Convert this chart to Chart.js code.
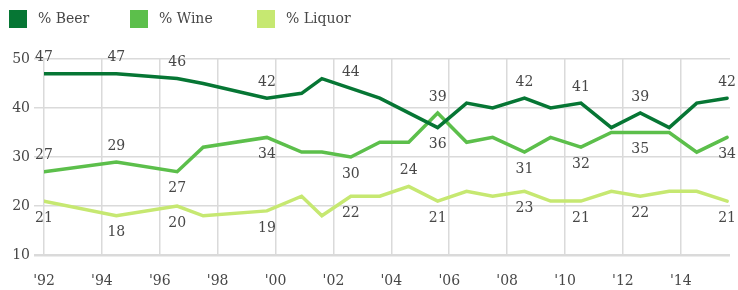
<!DOCTYPE html>
<html>
<head>
<meta charset="utf-8">
<script src="https://cdn.jsdelivr.net/npm/chart.js@4/dist/chart.umd.min.js"></script>
<style>
  body { margin: 0; background: #fff; }
  #wrap { width: 738px; height: 290px; }
</style>
</head>
<body>
<div id="wrap"><canvas id="drinkChart" width="738" height="290"></canvas></div>
<script>
// Survey points (position along the year axis) and shares
const years = [1992.0, 1994.5, 1996.6, 1997.5, 1999.7, 2000.9, 2001.6, 2002.6, 2003.6, 2004.6,
               2005.6, 2006.6, 2007.5, 2008.6, 2009.5, 2010.55, 2011.6, 2012.6, 2013.6, 2014.55, 2015.6];
const beer   = [47, 47, 46, 45, 42, 43, 46, 44, 42, 39, 36, 41, 40, 42, 40, 41, 36, 39, 36, 41, 42];
const wine   = [27, 29, 27, 32, 34, 31, 31, 30, 33, 33, 39, 33, 34, 31, 34, 32, 35, 35, 35, 31, 34];
const liquor = [21, 18, 20, 18, 19, 22, 18, 22, 22, 24, 21, 23, 22, 23, 21, 21, 23, 22, 23, 23, 21];

// which points carry a value label, above or below the line
const beerAbove = [0, 1, 2, 4, 7, 13, 15, 17, 20];
const beerBelow = [10];
const wineAbove = [0, 1, 10];
const wineBelow = [2, 4, 7, 13, 15, 17, 20];
const liquorAbove = [9];
const liquorBelow = [0, 1, 2, 4, 7, 10, 13, 15, 17, 20];

const xTicks = [1992, 1994, 1996, 1998, 2000, 2002, 2004, 2006, 2008, 2010, 2012, 2014];
const yTicks = [10, 20, 30, 40, 50];

const FONT = "'DejaVu Serif', serif";
const GRID = '#dadada';

function toPoints(vals) {
    return years.map((x, i) => ({ x: x, y: vals[i] }));
}

// value labels next to the line points
const valueLabels = {
    id: 'valueLabels',
    afterDatasetsDraw(chart) {
        const ctx = chart.ctx;
        ctx.save();
        ctx.font = '14px ' + FONT;
        ctx.fillStyle = '#474747';
        ctx.textAlign = 'center';
        ctx.textBaseline = 'middle';
        chart.data.datasets.forEach((ds, i) => {
            const meta = chart.getDatasetMeta(i);
            ds.above.forEach(idx => {
                const p = meta.data[idx];
                ctx.fillText(String(ds.data[idx].y), p.x, p.y - 16);
            });
            ds.below.forEach(idx => {
                const p = meta.data[idx];
                ctx.fillText(String(ds.data[idx].y), p.x, p.y + 17);
            });
        });
        ctx.restore();
    }
};

// simple square legend across the top
const squareLegend = {
    id: 'squareLegend',
    afterDraw(chart) {
        const ctx = chart.ctx;
        const starts = [9, 130, 257];
        ctx.save();
        ctx.font = '14px ' + FONT;
        ctx.textBaseline = 'middle';
        chart.data.datasets.forEach((ds, i) => {
            const x = starts[i];
            ctx.fillStyle = ds.borderColor;
            ctx.fillRect(x, 10, 18, 18);
            ctx.fillStyle = '#474747';
            ctx.fillText(ds.label, x + 29, 19);
        });
        ctx.restore();
    }
};

const drinkChart = new Chart(document.getElementById('drinkChart'), {
    type: 'line',
    data: {
        datasets: [
            { label: '% Beer', data: toPoints(beer), borderColor: '#067634', above: beerAbove, below: beerBelow },
            { label: '% Wine', data: toPoints(wine), borderColor: '#5cbf4b', above: wineAbove, below: wineBelow },
            { label: '% Liquor', data: toPoints(liquor), borderColor: '#c6e871', above: liquorAbove, below: liquorBelow }
        ]
    },
    options: {
        responsive: false,
        animation: false,
        devicePixelRatio: 1,
        layout: { padding: { top: 59, right: 8, left: 0, bottom: 0 } },
        elements: {
            line: { borderWidth: 3.5, tension: 0, borderCapStyle: 'round', borderJoinStyle: 'miter' },
            point: { radius: 0, hoverRadius: 0 }
        },
        plugins: {
            legend: { display: false },
            tooltip: { enabled: false }
        },
        scales: {
            x: {
                type: 'linear',
                min: 1992,
                max: 2015.7,
                afterBuildTicks: scale => { scale.ticks = xTicks.map(v => ({ value: v })); },
                afterFit: scale => { scale.height = 35; },
                ticks: {
                    callback: v => "'" + String(v).slice(2),
                    font: { family: FONT, size: 14 },
                    color: '#474747',
                    padding: 18,
                    maxRotation: 0
                },
                grid: { color: GRID, lineWidth: 1.5, drawTicks: false },
                border: { display: false }
            },
            y: {
                min: 10,
                max: 50,
                afterBuildTicks: scale => { scale.ticks = yTicks.map(v => ({ value: v })); },
                afterFit: scale => { scale.width = 44; },
                ticks: {
                    font: { family: FONT, size: 14 },
                    color: '#474747',
                    padding: 4
                },
                grid: {
                    color: GRID,
                    lineWidth: c => (c.tick && c.tick.value === 10 ? 2.5 : 1.5),
                    tickLength: 10
                },
                border: { display: false }
            }
        }
    },
    plugins: [valueLabels, squareLegend]
});
</script>
</body>
</html>
